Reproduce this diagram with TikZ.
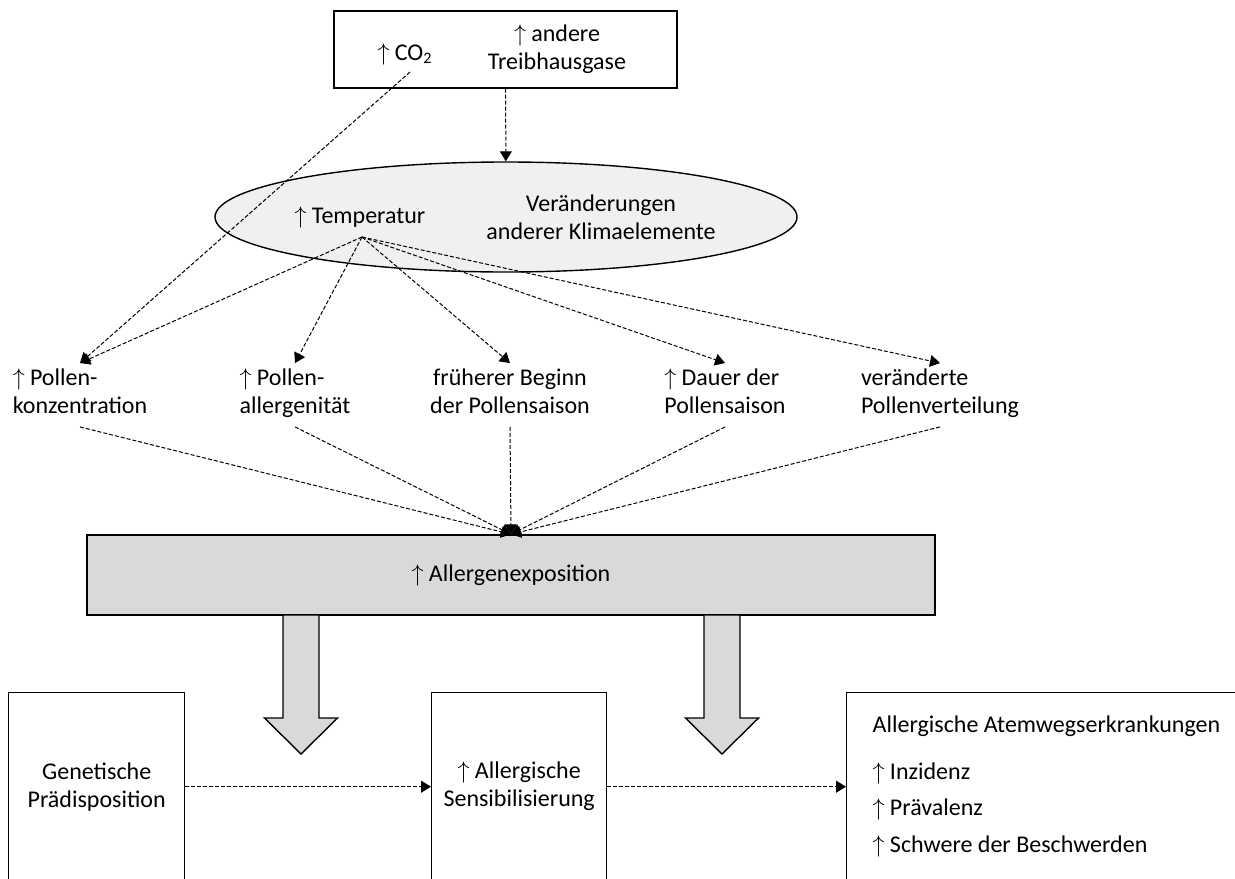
\documentclass[tikz,border=0pt]{standalone}
\usepackage{fontspec}
\setmainfont{Carlito}
\usetikzlibrary{positioning, arrows.meta, shapes.geometric}
\newcommand{\incr}{$\uparrow$\hspace{0.22em}}

\begin{document}
\begin{tikzpicture}
    [
        x=0.5pt, y=-0.5pt, node distance=107.5pt, on grid,
        font=\fontsize{12}{14}\selectfont,
        plain_box/.style={rectangle, draw=black, line width=0.7pt, fill=white, inner sep=0pt},
        pollen_node/.style={align=left, inner xsep=2pt, inner ysep=2.5pt, execute at begin node=\strut, execute at end node=\strut},
        dash_arrow/.style={-{Triangle[length=5pt, width=6pt]}, line width=0.5pt, dash pattern=on 2pt off 1pt},
        block_arrow/.style={draw=black, line width=0.7pt, fill=black!15},
    ]
        \useasboundingbox (0,0) rectangle (1235,878);
        \clip (0,0) rectangle (1235,878);
        \node[plain_box, minimum width=171.5pt, minimum height=38.5pt] (gases) at (505.5,49.5) {};
        \node (co2) at (405,54) {\incr CO\textsubscript{2}};
        \node[align=center] (ghg) at (557,49) {\incr andere\\Treibhausgase};
        \node[ellipse, draw=black, line width=0.7pt, fill=black!6, minimum width=291pt, minimum height=55pt, inner sep=0pt] (klima) at (506,217) {};
        \node (temp) at (360,217) {\incr Temperatur};
        \node[align=center] (other) at (601,217) {Veränderungen\\anderer Klimaelemente};
        \coordinate (tsrc) at (362,237);
        \coordinate (csrc) at (410,72);
        \node[pollen_node] (pkonz) at (80,395) {\incr Pollen-\\konzentration};
        \node[pollen_node] (pallerg) [right = of pkonz] {\incr Pollen-\\allergenität};
        \node[pollen_node, align=center] (pbeginn) [right = of pallerg] {früherer Beginn\\der Pollensaison};
        \node[pollen_node] (pdauer) [right = of pbeginn] {\incr Dauer der\\Pollensaison};
        \node[pollen_node] (pvert) [right = of pdauer] {veränderte\\Pollenverteilung};
        \node[plain_box, fill=black!15, minimum width=424pt, minimum height=40pt] (expo) at (511,575) {\incr Allergenexposition};
        \draw[block_arrow] (283,615) -- (319,615) -- (319,718) -- (337.5,718) -- (301,754) -- (264.5,718) -- (283,718) -- cycle;
        \draw[block_arrow] (704,615) -- (740,615) -- (740,718) -- (758.5,718) -- (722,754) -- (685.5,718) -- (704,718) -- cycle;
        \node[plain_box, anchor=north west, minimum width=88pt, minimum height=94pt, align=center] (genetik) at (8,692) {Genetische\\Prädisposition};
        \node[plain_box, anchor=north west, minimum width=87.5pt, minimum height=94pt, align=center] (sensib) at (431,692) {\incr Allergische\\Sensibilisierung};
        \node[plain_box, anchor=north west, minimum height=94pt, text width=200pt, inner xsep=13pt, align=flush left] (atemweg) at (846,692) {Allergische Atemwegserkrankungen\\[9.5pt]\incr Inzidenz\\[4pt]\incr Prävalenz\\[4.5pt]\incr Schwere der Beschwerden};
        \draw[dash_arrow] (gases) -- (klima);
        \draw[dash_arrow] (csrc) -- (pkonz.north);
        \draw[dash_arrow] (tsrc) -- (pkonz.north);
        \draw[dash_arrow] (tsrc) -- (pallerg.north);
        \draw[dash_arrow] (tsrc) -- (pbeginn.north);
        \draw[dash_arrow] (tsrc) -- (pdauer.north);
        \draw[dash_arrow] (tsrc) -- (pvert.north);
        \draw[dash_arrow] (pkonz.south) -- (expo.north);
        \draw[dash_arrow] (pallerg.south) -- (expo.north);
        \draw[dash_arrow] (pbeginn.south) -- (expo.north);
        \draw[dash_arrow] (pdauer.south) -- (expo.north);
        \draw[dash_arrow] (pvert.south) -- (expo.north);
        \draw[dash_arrow] (genetik) -- (sensib);
        \draw[dash_arrow] (sensib) -- (atemweg);
    \end{tikzpicture}
\end{document}
